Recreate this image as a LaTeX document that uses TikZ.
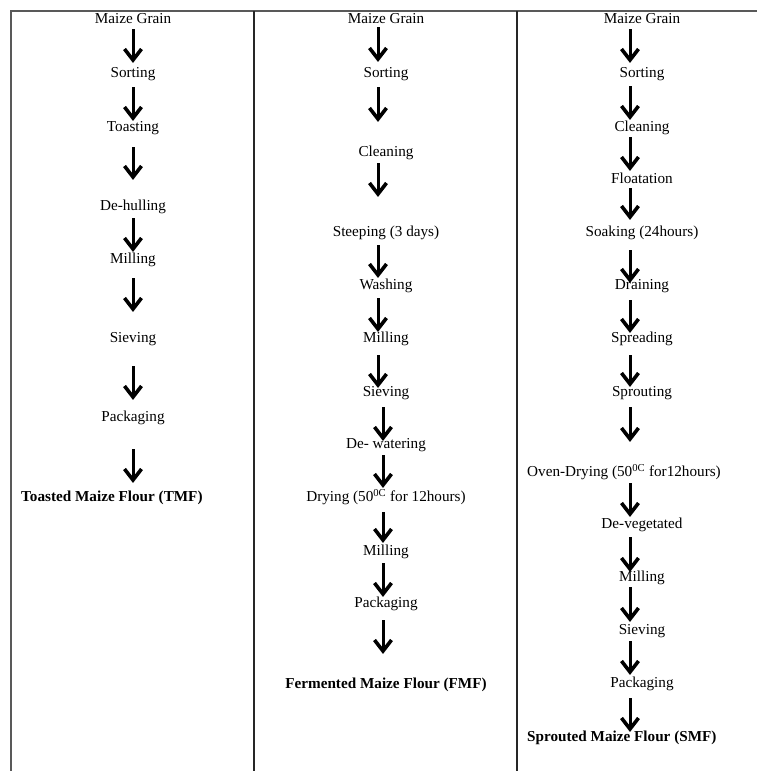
\documentclass[tikz,border=0pt]{standalone}
\usepackage{fontspec}
\setmainfont{Liberation Serif}
\usetikzlibrary{arrows.meta}

\begin{document}
\begin{tikzpicture}[x=1pt,y=-1pt,
    stage/.style={inner sep=0pt, text height=10.4pt, text depth=3.3pt, font=\fontsize{15.2}{18}\selectfont},
    flow/.style={line width=3pt, -{Straight Barb[length=11pt,width=17pt,line width=3.6pt]}}]
                \useasboundingbox (0,0) rectangle (757,771);

                % table frame
                \draw[line width=2pt, gray!70!black] (10,10.5) -- (757,10.5);
                \draw[line width=2pt, gray!70!black] (11,10) -- (11,771);
                \draw[line width=2pt, black!85] (254,11) -- (254,771);
                \draw[line width=2pt, black!85] (517,11) -- (517,771);

                \coordinate (lane1) at (133,0);
                \coordinate (lane2) at (378,0);
                \coordinate (lane2b) at (383,0);
                \coordinate (lane3) at (630,0);

                % toasted
                \node[stage] (grain1) at (133,20) {Maize Grain};
                \node[stage] (sort1) at (133,74) {Sorting};
                \node[stage] (toast1) at (133,128) {Toasting};
                \node[stage] (dehull1) at (133,207) {De-hulling};
                \node[stage] (mill1) at (133,260) {Milling};
                \node[stage] (sieve1) at (133,339) {Sieving};
                \node[stage] (pack1) at (133,418) {Packaging};
                \node[stage, anchor=west] (tmf) at (21,498) {\textbf{Toasted Maize Flour (TMF)}};

                \draw[flow, shorten <=2pt, shorten >=4pt] (grain1.south -| lane1) -- (sort1.north -| lane1);
                \draw[flow, shorten <=6pt, shorten >=0pt] (sort1.south -| lane1) -- (toast1.north -| lane1);
                \draw[flow, shorten <=12pt, shorten >=20pt] (toast1.south -| lane1) -- (dehull1.north -| lane1);
                \draw[flow, shorten <=4pt, shorten >=1pt] (dehull1.south -| lane1) -- (mill1.north -| lane1);
                \draw[flow, shorten <=11pt, shorten >=20pt] (mill1.south -| lane1) -- (sieve1.north -| lane1);
                \draw[flow, shorten <=20pt, shorten >=11pt] (sieve1.south -| lane1) -- (pack1.north -| lane1);
                \draw[flow, shorten <=24pt, shorten >=8pt] (pack1.south -| lane1) -- (tmf.north -| lane1);

                % fermented
                \node[stage] (grain2) at (386,20) {Maize Grain};
                \node[stage] (sort2) at (386,74) {Sorting};
                \node[stage] (clean2) at (386,153) {Cleaning};
                \node[stage] (steep2) at (386,233) {Steeping (3 days)};
                \node[stage] (wash2) at (386,286) {Washing};
                \node[stage] (mill2) at (386,339) {Milling};
                \node[stage] (sieve2) at (386,393) {Sieving};
                \node[stage] (dewater2) at (386,445) {De- watering};
                \node[stage] (dry2) at (386,498) {Drying (50\textsuperscript{0C} for 12hours)};
                \node[stage] (remill2) at (386,552) {Milling};
                \node[stage] (pack2) at (386,604) {Packaging};
                \node[stage] (fmf) at (386,685) {\textbf{Fermented Maize Flour (FMF)}};

                \draw[flow, shorten <=0pt, shorten >=5pt] (grain2.south -| lane2) -- (sort2.north -| lane2);
                \draw[flow, shorten <=6pt, shorten >=24pt] (sort2.south -| lane2) -- (clean2.north -| lane2);
                \draw[flow, shorten <=3pt, shorten >=29pt] (clean2.south -| lane2) -- (steep2.north -| lane2);
                \draw[flow, shorten <=5pt, shorten >=1pt] (steep2.south -| lane2) -- (wash2.north -| lane2);
                \draw[flow, shorten <=5pt, shorten >=0pt] (wash2.south -| lane2) -- (mill2.north -| lane2);
                \draw[flow, shorten <=9pt, shorten >=-2pt] (mill2.south -| lane2) -- (sieve2.north -| lane2);
                \draw[flow, shorten <=7pt, shorten >=-3pt] (sieve2.south -| lane2b) -- (dewater2.north -| lane2b);
                \draw[flow, shorten <=3pt, shorten >=3pt] (dewater2.south -| lane2b) -- (dry2.north -| lane2b);
                \draw[flow, shorten <=7pt, shorten >=2pt] (dry2.south -| lane2b) -- (remill2.north -| lane2b);
                \draw[flow, shorten <=4pt, shorten >=0pt] (remill2.south -| lane2b) -- (pack2.north -| lane2b);
                \draw[flow, shorten <=9pt, shorten >=24pt] (pack2.south -| lane2b) -- (fmf.north -| lane2b);

                % sprouted
                \node[stage] (grain3) at (642,20) {Maize Grain};
                \node[stage] (sort3) at (642,74) {Sorting};
                \node[stage] (clean3) at (642,128) {Cleaning};
                \node[stage] (float3) at (642,180) {Floatation};
                \node[stage] (soak3) at (642,233) {Soaking (24hours)};
                \node[stage] (drain3) at (642,286) {Draining};
                \node[stage] (spread3) at (642,339) {Spreading};
                \node[stage] (sprout3) at (642,393) {Sprouting};
                \node[stage] (oven3) at (624,473) {Oven-Drying (50\textsuperscript{0C} for12hours)};
                \node[stage] (deveg3) at (642,525) {De-vegetated};
                \node[stage] (mill3) at (642,578) {Milling};
                \node[stage] (sieve3) at (642,631) {Sieving};
                \node[stage] (pack3) at (642,684) {Packaging};
                \node[stage, anchor=west] (smf) at (527,738) {\textbf{Sprouted Maize Flour (SMF)}};

                \draw[flow, shorten <=2pt, shorten >=4pt] (grain3.south -| lane3) -- (sort3.north -| lane3);
                \draw[flow, shorten <=5pt, shorten >=1pt] (sort3.south -| lane3) -- (clean3.north -| lane3);
                \draw[flow, shorten <=2pt, shorten >=2pt] (clean3.south -| lane3) -- (float3.north -| lane3);
                \draw[flow, shorten <=1pt, shorten >=6pt] (float3.south -| lane3) -- (soak3.north -| lane3);
                \draw[flow, shorten <=10pt, shorten >=-4pt] (soak3.south -| lane3) -- (drain3.north -| lane3);
                \draw[flow, shorten <=7pt, shorten >=-1pt] (drain3.south -| lane3) -- (spread3.north -| lane3);
                \draw[flow, shorten <=9pt, shorten >=-1pt] (spread3.south -| lane3) -- (sprout3.north -| lane3);
                \draw[flow, shorten <=7pt, shorten >=24pt] (sprout3.south -| lane3) -- (oven3.north -| lane3);
                \draw[flow, shorten <=3pt, shorten >=1pt] (oven3.south -| lane3) -- (deveg3.north -| lane3);
                \draw[flow, shorten <=5pt, shorten >=-1pt] (deveg3.south -| lane3) -- (mill3.north -| lane3);
                \draw[flow, shorten <=2pt, shorten >=2pt] (mill3.south -| lane3) -- (sieve3.north -| lane3);
                \draw[flow, shorten <=3pt, shorten >=2pt] (sieve3.south -| lane3) -- (pack3.north -| lane3);
                \draw[flow, shorten <=7pt, shorten >=-1pt] (pack3.south -| lane3) -- (smf.north -| lane3);
            \end{tikzpicture}
\end{document}
